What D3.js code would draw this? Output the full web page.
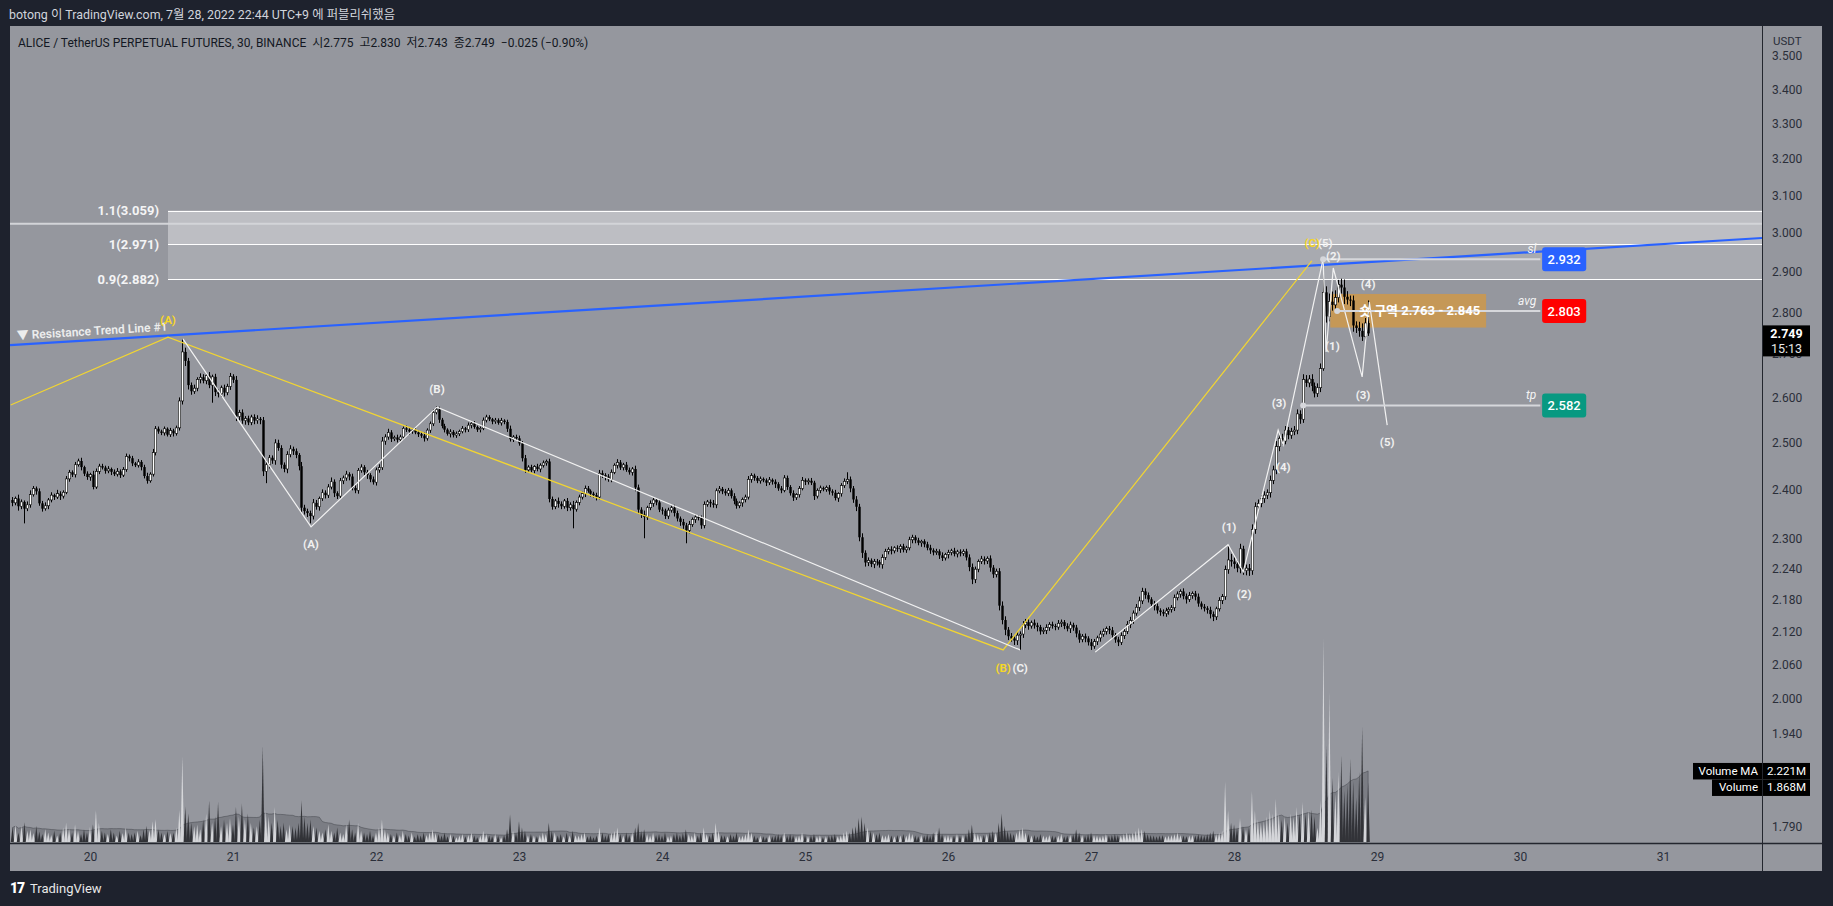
<!DOCTYPE html>
<html><head><meta charset="utf-8">
<script src="https://cdn.jsdelivr.net/npm/d3@7"></script>
<style>
html,body{margin:0;padding:0;background:#1e222d;overflow:hidden}
svg{display:block}
text{font-family:Roboto,"Noto Sans CJK KR",sans-serif}
</style></head><body>
<svg id="c" width="1833" height="906"></svg>
<script>
// ---------- DATA ----------
const startTime = new Date(2022, 6, 19, 11, 0); // first 30-min candle
const firstOpen = 2.378;
const closes = [
2.372,2.381,2.365,2.374,2.360,2.368,2.389,2.402,2.396,2.371,
2.360,2.366,2.378,2.388,2.384,2.391,2.386,2.394,2.422,2.436,
2.431,2.452,2.460,2.447,2.433,2.426,2.431,2.405,2.438,2.449,
2.446,2.439,2.443,2.437,2.432,2.438,2.430,2.442,2.470,2.466,
2.455,2.451,2.458,2.447,2.428,2.418,2.432,2.478,2.530,2.524,
2.521,2.530,2.517,2.526,2.520,2.532,2.592,2.705,2.684,2.628,
2.614,2.621,2.641,2.646,2.638,2.650,2.628,2.647,2.612,2.608,
2.622,2.611,2.625,2.648,2.640,2.557,2.566,2.548,2.553,2.544,
2.556,2.548,2.552,2.549,2.438,2.452,2.467,2.461,2.499,2.488,
2.452,2.443,2.474,2.486,2.481,2.473,2.449,2.362,2.355,2.351,
2.345,2.372,2.364,2.381,2.393,2.388,2.405,2.416,2.392,2.386,
2.418,2.424,2.432,2.427,2.403,2.398,2.440,2.447,2.436,2.430,
2.421,2.415,2.441,2.446,2.503,2.512,2.522,2.508,2.511,2.506,
2.512,2.531,2.528,2.524,2.527,2.522,2.518,2.515,2.509,2.527,
2.541,2.566,2.573,2.550,2.536,2.528,2.519,2.523,2.516,2.519,
2.524,2.531,2.528,2.538,2.542,2.534,2.528,2.531,2.549,2.556,
2.551,2.546,2.549,2.543,2.548,2.545,2.530,2.507,2.512,2.509,
2.498,2.466,2.441,2.447,2.440,2.448,2.443,2.451,2.456,2.459,
2.380,2.364,2.376,2.370,2.365,2.376,2.362,2.368,2.359,2.373,
2.384,2.391,2.402,2.397,2.391,2.388,2.384,2.434,2.430,2.427,
2.421,2.436,2.451,2.457,2.446,2.452,2.441,2.436,2.443,2.404,
2.358,2.348,2.343,2.362,2.371,2.378,2.373,2.358,2.356,2.345,
2.357,2.362,2.351,2.340,2.333,2.326,2.316,2.328,2.338,2.343,
2.341,2.326,2.369,2.374,2.371,2.368,2.397,2.401,2.396,2.392,
2.398,2.386,2.376,2.366,2.372,2.379,2.384,2.421,2.429,2.424,
2.418,2.422,2.419,2.414,2.420,2.416,2.411,2.402,2.398,2.424,
2.405,2.392,2.383,2.389,2.402,2.419,2.416,2.418,2.414,2.386,
2.398,2.403,2.400,2.404,2.396,2.393,2.382,2.391,2.408,2.417,
2.421,2.402,2.379,2.364,2.302,2.271,2.252,2.256,2.249,2.254,
2.253,2.248,2.262,2.274,2.278,2.275,2.281,2.279,2.284,2.277,
2.281,2.297,2.302,2.296,2.291,2.294,2.288,2.281,2.276,2.272,
2.274,2.266,2.261,2.268,2.272,2.275,2.269,2.273,2.270,2.274,
2.262,2.243,2.219,2.239,2.254,2.259,2.255,2.260,2.242,2.229,
2.235,2.169,2.142,2.124,2.112,2.108,2.104,2.114,2.116,2.133,
2.138,2.131,2.137,2.132,2.129,2.121,2.123,2.128,2.134,2.131,
2.129,2.136,2.138,2.131,2.126,2.133,2.128,2.117,2.106,2.112,
2.108,2.101,2.094,2.102,2.109,2.116,2.121,2.126,2.123,2.114,
2.106,2.101,2.113,2.121,2.134,2.141,2.155,2.166,2.178,2.196,
2.189,2.181,2.172,2.168,2.160,2.157,2.154,2.159,2.162,2.165,
2.184,2.191,2.196,2.187,2.181,2.188,2.192,2.186,2.173,2.167,
2.164,2.161,2.153,2.148,2.163,2.179,2.186,2.238,2.257,2.254,
2.249,2.241,2.279,2.236,2.241,2.236,2.318,2.364,2.371,2.381,
2.388,2.393,2.419,2.441,2.491,2.509,2.503,2.527,2.516,2.524,
2.527,2.563,2.551,2.641,2.633,2.642,2.626,2.609,2.622,2.666,
2.849,2.790,2.826,2.818,2.836,2.868,2.861,2.838,2.831,2.829,
2.768,2.762,2.755,2.741,2.774,2.749];
// upper / lower wick lengths in thousandths of a dollar
const wickUp = [
6,4,8,5,3,7,9,5,4,6, 5,7,4,6,3,8,5,4,6,5, 4,6,5,7,3,5,4,8,6,5, 5,4,6,3,5,7,4,5,6,4,
5,3,6,4,5,7,4,8,6,5, 4,5,3,6,4,5,8,30,10,7, 6,8,5,9,7,6,8,5,7,6, 5,7,6,8,5,9,6,7,5,6,
5,6,8,4,7,9,6,5,8,7, 6,5,7,8,5,6,4,9,6,5, 5,8,6,4,7,5,6,9,5,4, 6,5,7,4,6,8,5,6,4,5,
4,6,5,7,9,6,8,5,4,6, 5,4,6,5,3,6,4,5,7,4, 5,7,7,6,4,5,3,6,4,5, 4,5,3,6,4,5,3,4,6,5,
4,3,5,4,6,3,5,7,4,5, 6,5,7,4,5,3,6,4,5,4, 6,5,4,7,5,4,6,5,8,4, 5,4,6,5,3,4,5,7,6,4,
5,6,4,7,5,4,6,5,4,7, 6,5,8,4,6,5,4,6,5,4, 5,4,6,5,4,6,5,7,4,5, 4,5,6,4,5,7,5,6,4,5,
5,4,6,5,3,4,5,7,5,4, 4,5,3,4,6,3,5,4,5,6, 5,4,6,3,5,7,4,5,6,4, 4,5,3,4,5,4,6,3,5,6,
15,6,5,7,6,8,5,6,4,5, 5,4,6,5,4,6,3,5,4,5, 4,6,5,4,5,3,4,5,6,4, 5,4,6,3,5,4,6,4,5,4,
5,6,7,5,4,6,5,4,6,5, 5,6,8,7,5,6,4,6,5,7, 6,5,4,6,5,4,5,6,4,5, 4,6,5,4,5,6,4,5,6,4,
5,4,6,5,4,6,5,4,5,6, 4,5,6,5,6,7,5,6,8,7, 6,5,4,6,5,4,5,6,4,5, 6,5,4,6,5,7,4,5,6,4,
5,4,6,5,4,6,5,8,28,12, 8,7,10,6,7,8,10,9,8,7, 8,7,10,9,12,8,10,9,7,8, 9,10,8,12,10,9,11,8,10,12,
83,15,20,25,18,12,15,20,14,10, 12,10,15,18,12,55];
const wickDown = [
7,5,9,6,30,5,6,4,7,5, 6,4,7,5,6,4,8,5,4,6, 5,6,4,7,5,6,8,5,4,6, 4,6,5,7,4,5,6,4,5,7,
6,4,5,7,5,6,4,5,6,5, 5,6,4,5,7,5,6,8,12,10, 8,6,7,9,6,8,7,40,9,8, 7,9,6,8,7,10,8,7,9,6,
6,8,7,9,10,25,8,7,9,6, 8,7,9,6,8,7,9,10,7,8, 15,7,6,8,5,7,6,5,8,6, 5,7,6,8,5,6,7,5,6,8,
6,5,7,6,5,8,6,7,5,6, 4,6,5,7,5,4,6,5,7,5, 6,5,4,7,5,6,4,8,5,6, 5,4,6,5,7,4,5,6,4,5,
4,6,5,4,6,5,7,5,6,4, 5,7,6,5,4,6,5,7,5,6, 7,6,5,8,6,5,7,6,39,5, 6,5,7,4,6,5,7,5,6,8,
5,6,4,7,5,6,4,5,7,8, 9,7,43,6,5,7,6,5,8,6, 6,5,7,6,8,7,26,6,5,7, 5,7,6,5,8,6,7,5,6,5,
6,5,7,6,5,8,6,5,7,6, 5,6,4,7,5,6,8,5,6,4, 6,5,7,5,6,4,7,6,5,8, 5,6,4,5,7,6,5,8,6,5,
6,8,7,9,8,10,8,7,6,8, 7,6,8,5,6,7,5,6,8,5, 6,5,7,6,5,8,6,5,7,6, 5,7,6,5,8,6,5,7,6,5,
6,8,9,7,6,5,7,6,8,7, 6,9,8,10,7,6,8,8,27,7, 6,7,5,6,8,6,5,7,6,5, 6,5,7,6,5,8,6,7,6,5,
7,6,7,5,6,7,5,6,7,6, 6,7,5,6,5,7,6,5,7,6, 7,6,5,8,6,7,5,6,7,6, 6,5,7,6,8,5,6,7,6,5,
6,7,8,8,6,5,7,6,8,10, 9,8,10,8,9,10,8,9,7,8, 9,8,10,8,9,10,8,7,9,8, 8,9,10,8,9,10,12,9,8,10,
5,15,12,14,10,12,15,18,12,14, 15,12,14,10,12,6];
// volume in millions
const volumes = [
0.45,0.55,0.3,0.5,0.62,0.35,0.4,0.28,0.5,0.33, 0.25,0.4,0.3,0.22,0.35,0.2,0.3,0.45,0.6,0.42,
0.3,0.55,0.35,0.25,0.4,0.3,0.48,0.55,1.0,0.6, 0.35,0.3,0.25,0.4,0.3,0.2,0.35,0.28,0.45,0.3,
0.25,0.3,0.35,0.22,0.4,0.5,0.38,0.65,0.72,0.4, 0.3,0.25,0.35,0.28,0.3,0.45,1.0,2.7,1.1,0.9,
0.6,0.5,0.55,0.4,0.7,0.9,1.3,0.6,0.8,1.25, 0.5,0.7,0.6,0.75,0.55,1.1,0.8,1.2,0.7,0.9,
0.6,0.45,0.5,0.7,3.0,1.0,0.8,0.6,1.1,0.7, 0.5,0.6,0.4,0.55,0.5,0.45,0.6,1.3,0.8,0.6,
0.7,0.5,0.45,0.35,0.3,0.4,0.55,0.35,0.3,0.45, 0.3,0.25,0.55,0.7,0.4,0.3,0.6,0.35,0.3,0.25,
0.35,0.2,0.3,0.45,0.7,0.4,0.3,0.25,0.2,0.3, 0.22,0.35,0.25,0.2,0.3,0.18,0.25,0.2,0.3,0.22,
0.3,0.4,0.28,0.25,0.2,0.3,0.18,0.25,0.2,0.15, 0.2,0.25,0.18,0.22,0.3,0.2,0.15,0.2,0.35,0.25,
0.2,0.18,0.25,0.2,0.15,0.22,0.4,0.87,0.35,0.3, 0.65,0.45,0.35,0.2,0.25,0.2,0.18,0.22,0.3,0.25,
0.6,0.35,0.3,0.2,0.25,0.18,0.3,0.2,0.35,0.22, 0.2,0.25,0.3,0.18,0.2,0.15,0.2,0.45,0.3,0.2,
0.25,0.3,0.35,0.45,0.25,0.2,0.3,0.22,0.3,0.45, 0.6,0.35,0.4,0.25,0.2,0.3,0.22,0.25,0.2,0.3,
0.18,0.2,0.25,0.3,0.22,0.28,0.4,0.25,0.2,0.3, 0.2,0.3,0.45,0.25,0.2,0.3,0.6,0.35,0.22,0.2,
0.18,0.25,0.2,0.3,0.18,0.2,0.25,0.4,0.3,0.2, 0.15,0.2,0.18,0.15,0.22,0.18,0.2,0.25,0.2,0.3,
0.2,0.25,0.22,0.18,0.2,0.3,0.22,0.18,0.2,0.25, 0.18,0.2,0.15,0.18,0.2,0.22,0.25,0.18,0.2,0.3,
0.35,0.3,0.45,0.5,0.75,0.8,0.6,0.45,0.35,0.3, 0.25,0.3,0.22,0.2,0.25,0.2,0.18,0.22,0.2,0.25,
0.2,0.3,0.25,0.2,0.18,0.22,0.2,0.25,0.2,0.3, 0.35,0.45,0.25,0.2,0.22,0.18,0.2,0.25,0.2,0.22,
0.25,0.4,0.55,0.3,0.25,0.2,0.22,0.25,0.3,0.35, 0.3,0.6,0.9,0.5,0.35,0.3,0.25,0.3,0.4,0.45,
0.3,0.25,0.2,0.22,0.18,0.25,0.2,0.18,0.22,0.2, 0.18,0.2,0.25,0.18,0.2,0.22,0.25,0.4,0.3,0.22,
0.2,0.25,0.3,0.22,0.2,0.18,0.2,0.25,0.2,0.22, 0.25,0.22,0.2,0.25,0.3,0.25,0.3,0.35,0.45,0.4,
0.35,0.25,0.22,0.2,0.18,0.2,0.22,0.18,0.2,0.22, 0.25,0.3,0.22,0.2,0.18,0.2,0.22,0.2,0.25,0.22,
0.2,0.25,0.3,0.35,0.25,0.3,0.35,1.9,1.0,0.6, 0.55,0.45,0.75,0.5,0.4,0.45,1.6,1.0,0.7,0.6,
0.65,0.8,1.0,0.9,1.35,0.9,0.7,0.8,0.6,0.9, 0.8,1.1,0.9,1.25,0.9,1.0,
1.0,0.8,0.45,1.3,6.4,3.0,4.7,2.0,1.5,2.2,2.7,1.6,1.8,2.6,1.9,1.4,2.2,3.6,1.4,1.868];
const volumeMaLength = 20;

const dayTicks = [20,21,22,23,24,25,26,27,28,29,30,31];
const priceTicks = [3.5,3.4,3.3,3.2,3.1,3.0,2.9,2.8,2.7,2.6,2.5,2.4,2.3,2.24,2.18,2.12,2.06,2.0,1.94,1.88,1.79];

// drawings (time index in candles, price)
const fibStartIdx = 52.2;
const fibLevels = [{ratio:"1.1", price:3.059},{ratio:"1", price:2.971},{ratio:"0.9", price:2.882}];
const extraLevel = 3.024;
const trendLine = [{i:57, p:2.746},{i:587.3, p:2.987}];
const trendLabel = "▼ Resistance Trend Line #1";
const yellowWave = [[-0.6,2.583],[52.2,2.740],[332.5,2.087],[436.1,2.928]];
const whiteWave = [[57.2,2.736],[100.2,2.323],[142.5,2.578],[338.2,2.087]];
const impulseWave = [[363.4,2.083],[408.0,2.287],[413.1,2.234],[424.8,2.527],[426.5,2.495],[439.9,2.933]];
const subWave = [[439.9,2.933],[440.9,2.705],[443.3,2.910],[453.0,2.647],[455.4,2.825],[461.4,2.538]];
const whiteLabels = [
 ["(A)",100.2,2.289],["(B)",142.5,2.619],["(C)",338.2,2.055],["(1)",408.3,2.323],["(2)",413.4,2.191],
 ["(3)",425.1,2.587],["(4)",426.5,2.447],["(5)",440.6,2.974],["(2)",443.3,2.941],["(1)",443.0,2.719],
 ["(4)",455.0,2.870],["(3)",453.3,2.606],["(5)",461.4,2.501]];
const yellowLabels = [["(A)",52.2,2.781],["(B)",332.5,2.055],["(C)",436.2,2.974]];
const zone = {lo:2.763, hi:2.845, i0:442.3, i1:494.6, name:"숏 구역"};
const levels = [
 {name:"sl", price:2.932, color:"#2962ff", i0:439.9},
 {name:"avg", price:2.803, color:"#ff0000", i0:444.6},
 {name:"tp", price:2.582, color:"#089981", i0:433.2}];
const levelEndIdx = 512.8, levelBoxIdx0 = 513.4, levelBoxIdx1 = 528.2;
const headerText = "botong 이 TradingView.com, 7월 28, 2022 22:44 UTC+9 에 퍼블리쉬했음";
const legendParts = ["ALICE / TetherUS PERPETUAL FUTURES, 30, BINANCE", "시2.775", "고2.830", "저2.743", "종2.749", "−0.025 (−0.90%)"];
const countdown = "15:13";

// ---------- SCALES ----------
const L=10, R=1762, T=26, B=843, AX=1822, BOT=871;
const svg = d3.select("#c");
const x = d3.scaleTime().domain([new Date(2022,6,19,10,35), new Date(2022,6,31,16,36)]).range([L,R]);
const y = d3.scaleLog().domain([1.79,3.0]).range([826.3,233]);
const yv = d3.scaleLinear().domain([0,6.44]).range([842,636]);
const tOf = i => new Date(startTime.getTime() + i*30*60000);
const X = i => x(tOf(i));

const candles = closes.map((c,i)=>{
  const o = i===0 ? firstOpen : closes[i-1];
  return {i, o, c, h: Math.max(o,c)+wickUp[i]/1000, l: Math.min(o,c)-wickDown[i]/1000, v: volumes[i]};
});
const ma = volumes.map((v,i)=>{ const s = volumes.slice(Math.max(0,i-volumeMaLength+1), i+1); return d3.mean(s); });

// ---------- BACKGROUND ----------
svg.append("rect").attr("width",1833).attr("height",906).attr("fill","#1e222d");
svg.append("rect").attr("x",L).attr("y",T).attr("width",AX-L).attr("height",BOT-T).attr("fill","#95979e");
svg.append("defs").append("clipPath").attr("id","plot").append("rect").attr("x",L).attr("y",T).attr("width",R-L).attr("height",B-T);
const g = svg.append("g").attr("clip-path","url(#plot)");

// Fib
const fx0 = X(fibStartIdx);
g.append("rect").attr("x",fx0).attr("y",y(fibLevels[0].price)).attr("width",R-fx0)
 .attr("height",y(fibLevels[1].price)-y(fibLevels[0].price)).attr("fill","#bdbec3");
g.append("rect").attr("x",fx0).attr("y",y(fibLevels[1].price)).attr("width",R-fx0)
 .attr("height",y(fibLevels[2].price)-y(fibLevels[1].price)).attr("fill","#a8aab0");
g.append("line").attr("x1",L).attr("x2",R).attr("y1",y(extraLevel)).attr("y2",y(extraLevel))
 .attr("stroke","#d3d4d8").attr("stroke-width",2);
fibLevels.forEach(f=>{
  g.append("line").attr("x1",fx0).attr("x2",R).attr("y1",Math.round(y(f.price))+0.5).attr("y2",Math.round(y(f.price))+0.5)
   .attr("stroke","#ffffff").attr("stroke-width",1.2);
  g.append("text").attr("x",fx0-9).attr("y",y(f.price)).attr("dy","0.35em").attr("text-anchor","end")
   .attr("font-size",13).attr("font-weight",700).attr("fill","#f4f4f5").text(`${f.ratio}(${f.price.toFixed(3)})`);
});

// Volume
const vArea = d3.area().x((d,i)=>X(i)).y0(yv(0)).y1(d=>yv(d));
g.append("path").datum(ma).attr("d",vArea).attr("fill","rgba(70,72,80,0.33)").attr("stroke","rgba(60,62,68,0.45)").attr("stroke-width",1);
g.selectAll(".vol").data(candles).enter().append("path")
 .attr("d",d=>{const cx=X(d.i); return `M${cx-1.7},${yv(0)}L${cx},${yv(d.v)}L${cx+1.7},${yv(0)}Z`;})
 .attr("fill",d=>d.c>=d.o?"#d9dadd":"#2e2f34").attr("opacity",0.95);

// Zone
g.append("rect").attr("x",X(zone.i0)).attr("y",y(zone.hi)).attr("width",X(zone.i1)-X(zone.i0))
 .attr("height",y(zone.lo)-y(zone.hi)).attr("fill","rgba(255,152,0,0.45)");

// Candles
const cg = g.append("g");
candles.forEach(d=>{
  const cx = Math.round(X(d.i))+0.5;
  cg.append("line").attr("x1",cx).attr("x2",cx).attr("y1",y(d.h)).attr("y2",y(d.l)).attr("stroke","#000").attr("stroke-width",1);
  const top = y(Math.max(d.o,d.c)), bot = y(Math.min(d.o,d.c));
  const up = d.c>=d.o;
  cg.append("rect").attr("x",cx-1.2).attr("width",2.4).attr("y",top).attr("height",Math.max(1,bot-top))
   .attr("fill",up?"#ffffff":"#000000").attr("stroke","#000").attr("stroke-width",up?0.6:0);
});

// Trend line
const t1 = [X(trendLine[0].i), y(trendLine[0].p)], t2 = [X(trendLine[1].i), y(trendLine[1].p)];
const slope = (t2[1]-t1[1])/(t2[0]-t1[0]);
const ty = xx => t1[1] + slope*(xx-t1[0]);
g.append("line").attr("x1",L).attr("y1",ty(L)).attr("x2",R).attr("y2",ty(R)).attr("stroke","#2962ff").attr("stroke-width",2.2);
const ang = Math.atan(slope)*180/Math.PI;
g.append("text").attr("transform",`translate(${L+7},${ty(L+7)-5}) rotate(${ang})`)
 .attr("font-size",12).attr("font-weight",600).attr("fill","#eceded").text(trendLabel);

// waves
const line = d3.line().x(d=>X(d[0])).y(d=>y(d[1]));
g.append("path").attr("d",line(yellowWave)).attr("fill","none").attr("stroke","#f2d531").attr("stroke-width",1.2);
[whiteWave, impulseWave, subWave].forEach(w=>{
  g.append("path").attr("d",line(w)).attr("fill","none").attr("stroke","#f2f2f2").attr("stroke-width",1.2);
});

// level lines
levels.forEach(lv=>{
  const yy = y(lv.price);
  g.append("line").attr("x1",X(lv.i0)).attr("x2",X(levelEndIdx)).attr("y1",yy).attr("y2",yy).attr("stroke","#d6d7db").attr("stroke-width",2);
  g.append("circle").attr("cx",X(lv.i0)).attr("cy",yy).attr("r",3).attr("fill","#d6d7db");
  g.append("text").attr("x",X(levelEndIdx)-4).attr("y",yy-6).attr("text-anchor","end").attr("font-size",12)
   .attr("font-style","italic").attr("fill","#f4f4f4").text(lv.name);
  const bx0 = X(levelBoxIdx0), bx1 = X(levelBoxIdx1);
  g.append("rect").attr("x",bx0).attr("y",yy-12).attr("width",bx1-bx0).attr("height",24).attr("rx",3).attr("fill",lv.color);
  g.append("text").attr("x",(bx0+bx1)/2).attr("y",yy).attr("dy","0.35em").attr("text-anchor","middle")
   .attr("font-size",13).attr("font-weight",500).attr("fill","#fff").text(lv.price.toFixed(3));
});

// zone text
g.append("text").attr("x",X(zone.i1)-6).attr("y",(y(zone.lo)+y(zone.hi))/2).attr("dy","0.35em").attr("text-anchor","end")
 .attr("font-family","'Noto Sans CJK KR', sans-serif")
 .attr("font-size",13).attr("font-weight",700).attr("fill","#ffffff").text(`${zone.name} ${zone.lo.toFixed(3)} - ${zone.hi.toFixed(3)}`);

// wave labels
whiteLabels.forEach(([t,i,p])=>{
  g.append("text").attr("x",X(i)).attr("y",y(p)).attr("dy","0.35em").attr("text-anchor","middle")
   .attr("font-size",11.5).attr("font-weight",700).attr("fill","#f0f0f0").text(t);
});
yellowLabels.forEach(([t,i,p])=>{
  g.append("text").attr("x",X(i)).attr("y",y(p)).attr("dy","0.35em").attr("text-anchor","middle")
   .attr("font-size",11.5).attr("font-weight",700).attr("fill","#f5d629").text(t);
});

// ---------- AXES ----------
svg.append("line").attr("x1",R+0.5).attr("x2",R+0.5).attr("y1",T).attr("y2",BOT).attr("stroke","#23262e").attr("stroke-width",1);
svg.append("line").attr("x1",L).attr("x2",AX).attr("y1",B+0.5).attr("y2",B+0.5).attr("stroke","#23262e").attr("stroke-width",1.5);

const xAxis = d3.axisBottom(x).tickValues(dayTicks.map(d=>new Date(2022,6,d))).tickFormat(d3.timeFormat("%-d")).tickSize(0).tickPadding(9);
const xa = svg.append("g").attr("transform",`translate(0,${B})`).call(xAxis);
xa.select(".domain").remove();
xa.selectAll("text").attr("font-size",12).attr("fill","#2a2e39").attr("font-family","Roboto, sans-serif");

const yAxis = d3.axisRight(y).tickValues(priceTicks).tickFormat(d3.format(".3f")).tickSize(0).tickPadding(10);
const ya = svg.append("g").attr("transform",`translate(${R},0)`).call(yAxis);
ya.select(".domain").remove();
ya.selectAll("text").attr("font-size",12).attr("fill","#2a2e39").attr("font-family","Roboto, sans-serif");
svg.append("text").attr("x",R+11).attr("y",45).attr("font-size",11.5).attr("fill","#2a2e39").text("USDT");

// current price label
const last = candles[candles.length-1];
const ly = y(last.c);
svg.append("rect").attr("x",R+1).attr("y",ly-8).attr("width",47).attr("height",31).attr("fill","#000");
svg.append("text").attr("x",R+24.5).attr("y",ly+4.5).attr("text-anchor","middle").attr("font-size",12.5).attr("font-weight",700).attr("fill","#fff").text(last.c.toFixed(3));
svg.append("text").attr("x",R+24.5).attr("y",ly+19.5).attr("text-anchor","middle").attr("font-size",12.5).attr("fill","#e6e6e6").text(countdown);

// volume labels
const maLast = ma[ma.length-1], vLast = last.v;
const fmtM = v => v.toFixed(3)+"M";
const myc = yv(maLast);
[["Volume MA", fmtM(maLast), myc-8, 69],["Volume", fmtM(vLast), myc+8.5, 50]].forEach(([nm,val,top,w])=>{
  svg.append("rect").attr("x",R-w).attr("y",top).attr("width",w).attr("height",16.5).attr("fill","#000");
  svg.append("text").attr("x",R-4).attr("y",top+12).attr("text-anchor","end").attr("font-size",11.5).attr("fill","#fff").text(nm);
  svg.append("rect").attr("x",R+1).attr("y",top).attr("width",47).attr("height",16.5).attr("fill","#000");
  svg.append("text").attr("x",R+24.5).attr("y",top+12).attr("text-anchor","middle").attr("font-size",11.5).attr("fill","#fff").text(val);
});

// ---------- HEADER ----------
svg.append("text").attr("x",9).attr("y",19).attr("font-size",12.4).attr("fill","#d1d4dc").text(headerText);
const lg = svg.append("text").attr("x",18).attr("y",46.5).attr("font-size",12).attr("fill","#131722").attr("xml:space","preserve");
lg.text(legendParts.join("  "));

// footer logo
svg.append("text").attr("x",10).attr("y",893).attr("font-size",14).attr("font-weight",900).attr("fill","#ffffff").attr("letter-spacing","-1").text("17");
svg.append("text").attr("x",30).attr("y",893).attr("font-size",13).attr("fill","#e8e8e8").text("TradingView");
</script>
</body></html>
